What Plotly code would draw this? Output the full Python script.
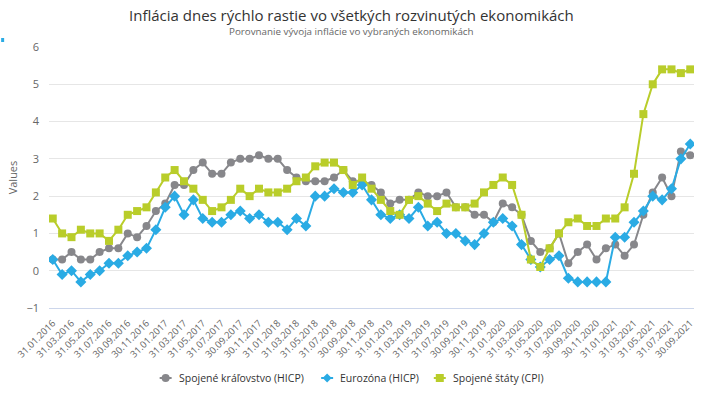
import plotly.graph_objects as go

tick_labels = [
    "31.01.2016", "31.03.2016", "31.05.2016", "31.07.2016", "30.09.2016", "30.11.2016",
    "31.01.2017", "31.03.2017", "31.05.2017", "31.07.2017", "30.09.2017", "30.11.2017",
    "31.01.2018", "31.03.2018", "31.05.2018", "31.07.2018", "30.09.2018", "30.11.2018",
    "31.01.2019", "31.03.2019", "31.05.2019", "31.07.2019", "30.09.2019", "30.11.2019",
    "31.01.2020", "31.03.2020", "31.05.2020", "31.07.2020", "30.09.2020", "30.11.2020",
    "31.01.2021", "31.03.2021", "31.05.2021", "31.07.2021", "30.09.2021",
]

uk = [0.3, 0.3, 0.5, 0.3, 0.3, 0.5, 0.6, 0.6, 1.0, 0.9, 1.2, 1.6,
      1.8, 2.3, 2.3, 2.7, 2.9, 2.6, 2.6, 2.9, 3.0, 3.0, 3.1, 3.0,
      3.0, 2.7, 2.5, 2.4, 2.4, 2.4, 2.5, 2.7, 2.4, 2.4, 2.3, 2.1,
      1.8, 1.9, 1.9, 2.1, 2.0, 2.0, 2.1, 1.7, 1.7, 1.5, 1.5, 1.3,
      1.8, 1.7, 1.5, 0.8, 0.5, 0.6, 1.0, 0.2, 0.5, 0.7, 0.3, 0.6,
      0.7, 0.4, 0.7, 1.5, 2.1, 2.5, 2.0, 3.2, 3.1]

ez = [0.3, -0.1, 0.0, -0.3, -0.1, 0.0, 0.2, 0.2, 0.4, 0.5, 0.6, 1.1,
      1.7, 2.0, 1.5, 1.9, 1.4, 1.3, 1.3, 1.5, 1.6, 1.4, 1.5, 1.3,
      1.3, 1.1, 1.4, 1.2, 2.0, 2.0, 2.2, 2.1, 2.1, 2.3, 1.9, 1.5,
      1.4, 1.5, 1.4, 1.7, 1.2, 1.3, 1.0, 1.0, 0.8, 0.7, 1.0, 1.3,
      1.4, 1.2, 0.7, 0.3, 0.1, 0.3, 0.4, -0.2, -0.3, -0.3, -0.3, -0.3,
      0.9, 0.9, 1.3, 1.6, 2.0, 1.9, 2.2, 3.0, 3.4]

us = [1.4, 1.0, 0.9, 1.1, 1.0, 1.0, 0.8, 1.1, 1.5, 1.6, 1.7, 2.1,
      2.5, 2.7, 2.4, 2.2, 1.9, 1.6, 1.7, 1.9, 2.2, 2.0, 2.2, 2.1,
      2.1, 2.2, 2.4, 2.5, 2.8, 2.9, 2.9, 2.7, 2.3, 2.5, 2.2, 1.9,
      1.6, 1.5, 1.9, 2.0, 1.8, 1.6, 1.8, 1.7, 1.7, 1.8, 2.1, 2.3,
      2.5, 2.3, 1.5, 0.3, 0.1, 0.6, 1.0, 1.3, 1.4, 1.2, 1.2, 1.4,
      1.4, 1.7, 2.6, 4.2, 5.0, 5.4, 5.4, 5.3, 5.4]

series_names = ["Spojené kráľovstvo (HICP)", "Eurozóna (HICP)", "Spojené štáty (CPI)"]
series_colors = ["#87878b", "#2aabe4", "#b9cd2a"]
series_symbols = ["circle", "diamond", "square"]

x = list(range(len(uk)))
tick_pos = list(range(0, len(uk), 2))

FONT = "Open Sans"
L, R, T, B = 49, 8, 47, 92
W, H = 704, 400
PW, PH = W - L - R, H - T - B


def px(xp):
    return (xp - L) / PW


def py(yp):
    return (H - B - yp) / PH


fig = go.Figure()
for vals, name, col, sym in zip([uk, ez, us], series_names, series_colors, series_symbols):
    fig.add_trace(go.Scatter(x=x, y=vals, mode="lines+markers", name=name,
                             line=dict(color=col, width=2),
                             marker=dict(symbol=sym, size=8 if sym != "diamond" else 8.5, color=col)))

# legend built from shapes + text (Highcharts-style compact legend)
legend_pos = [160, 322, 435]
ly = 378
shapes = [dict(type="rect", xref="paper", yref="paper",
               x0=px(1), x1=px(4), y0=py(42), y1=py(38),
               fillcolor="#2aabe4", line=dict(width=0))]
annotations = [
    dict(text="Inflácia dnes rýchlo rastie vo všetkých rozvinutých ekonomikách",
         xref="paper", yref="paper", x=px(352), y=py(15),
         xanchor="center", yanchor="middle", showarrow=False,
         font=dict(size=15, color="#333333", family=FONT)),
    dict(text="Porovnanie vývoja inflácie vo vybraných ekonomikách",
         xref="paper", yref="paper", x=px(352), y=py(32),
         xanchor="center", yanchor="middle", showarrow=False,
         font=dict(size=9.8, color="#666666", family=FONT)),
]
for x0, name, col, sym in zip(legend_pos, series_names, series_colors, series_symbols):
    cx = x0 + 6
    shapes.append(dict(type="line", xref="paper", yref="paper",
                       x0=px(x0), x1=px(x0 + 12), y0=py(ly), y1=py(ly),
                       line=dict(color=col, width=2)))
    base = dict(xref="paper", yref="paper", xsizemode="pixel", ysizemode="pixel",
                xanchor=px(cx), yanchor=py(ly), fillcolor=col, line=dict(width=0))
    if sym == "circle":
        shapes.append(dict(type="circle", x0=-4, x1=4, y0=-4, y1=4, **base))
    elif sym == "square":
        shapes.append(dict(type="rect", x0=-4, x1=4, y0=-4, y1=4, **base))
    else:
        shapes.append(dict(type="path", path="M 0 -4.5 L 4.5 0 L 0 4.5 L -4.5 0 Z", **base))
    annotations.append(dict(text=name, xref="paper", yref="paper", x=px(x0 + 17), y=py(ly),
                            xanchor="left", yanchor="middle", showarrow=False,
                            font=dict(size=10.5, color="#333333", family=FONT)))

fig.update_layout(
    width=W, height=H,
    margin=dict(l=L, r=R, t=T, b=B),
    paper_bgcolor="white", plot_bgcolor="white",
    font=dict(family=FONT, color="#666666", size=11),
    showlegend=False,
    xaxis=dict(range=[-0.4, 68.4], tickmode="array", tickvals=tick_pos, ticktext=tick_labels,
               tickangle=-45, tickfont=dict(size=9.5, color="#666666"), showgrid=False,
               showline=True, linecolor="#ccd6eb", linewidth=1, zeroline=False, ticks="",
               ticklabelstandoff=5),
    yaxis=dict(range=[-1, 6], dtick=1, gridcolor="#e6e6e6", zeroline=False,
               tickfont=dict(size=11, color="#666666"), ticks="", ticklabelstandoff=9,
               title=dict(text="Values", font=dict(size=11, color="#666666"), standoff=6)),
    annotations=annotations,
    shapes=shapes,
)

fig.write_html("out.html")
